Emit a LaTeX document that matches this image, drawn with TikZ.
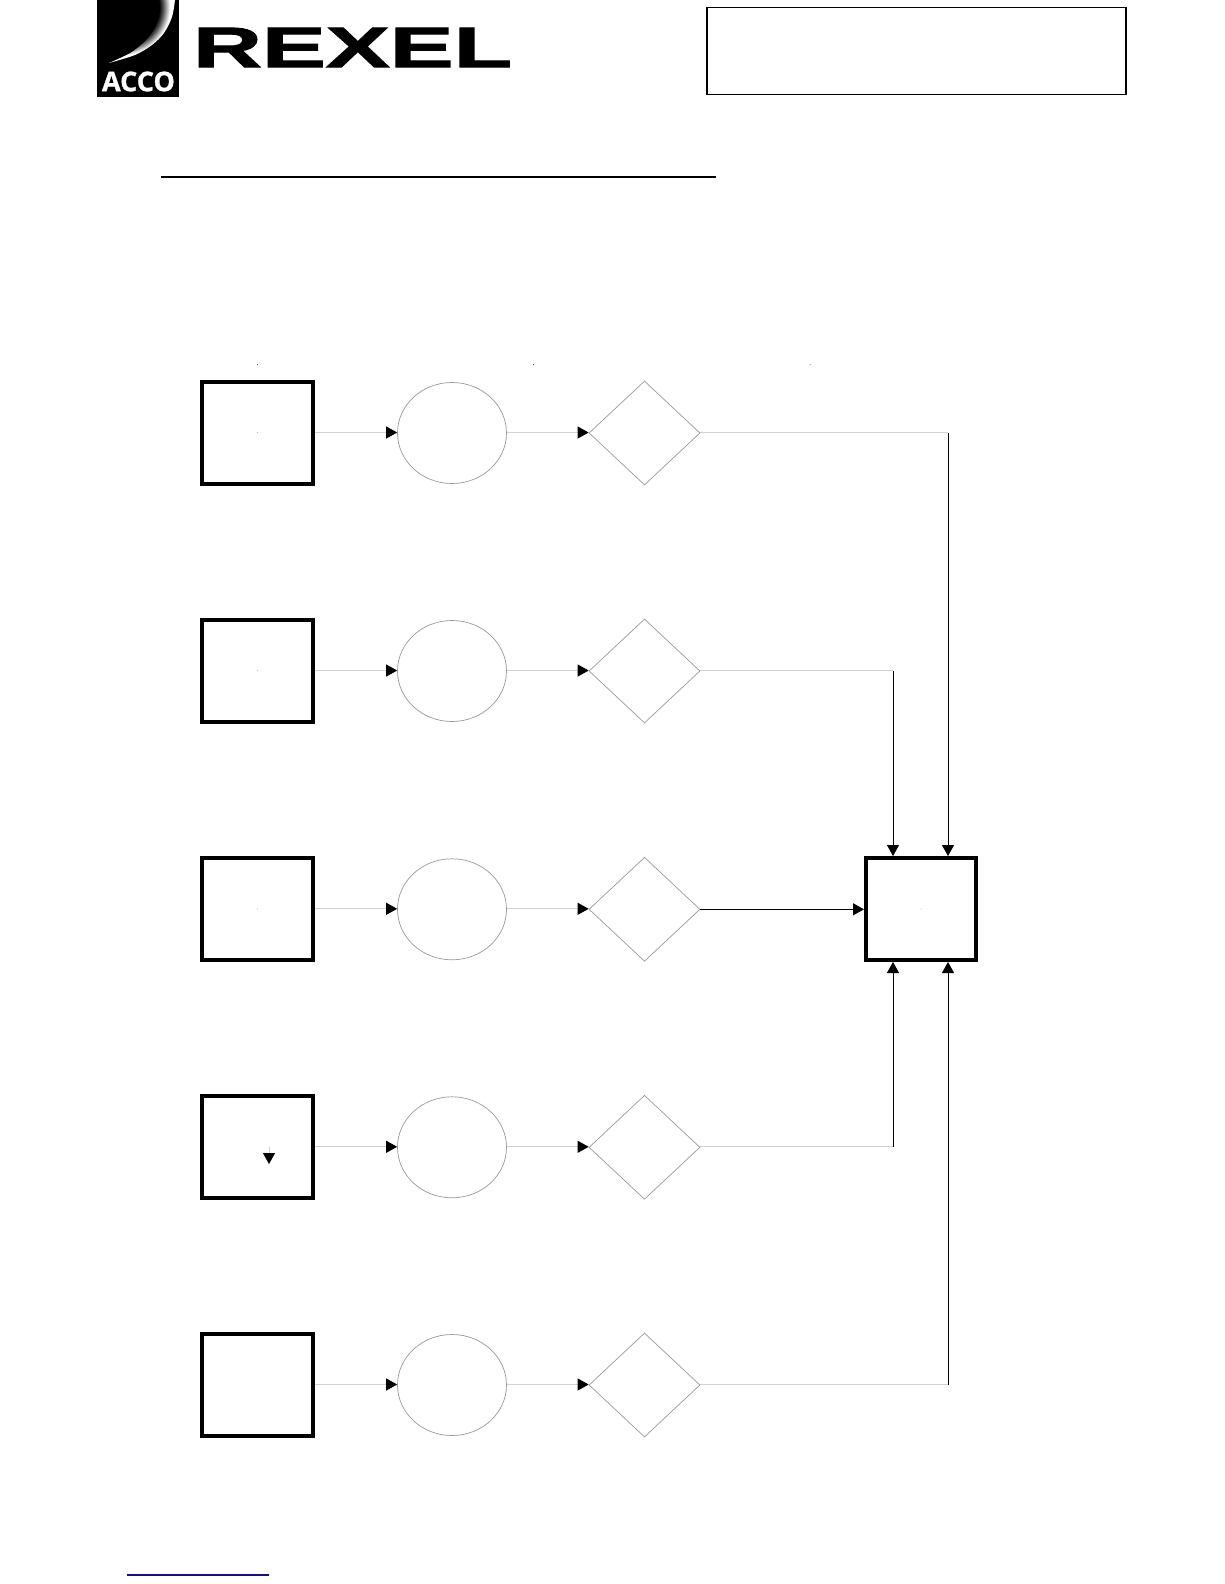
\documentclass[tikz,border=0pt]{standalone}
\usepackage{fontspec}
\setmainfont{Liberation Sans}
\newfontfamily\accofont{Open Sans}[BoldFont={Open Sans Bold},BoldFeatures={FakeBold=1}]
\newfontfamily\rexfont{Liberation Sans Bold}[FakeBold=1.5]
\usetikzlibrary{arrows.meta,shapes.geometric,calc}
\pgfdeclareradialshading{moonshade}{\pgfpoint{0bp}{0bp}}{color(0bp)=(black);color(15.5bp)=(black);color(17bp)=(black!70!white);color(18.5bp)=(black!35!white);color(20bp)=(white);color(50bp)=(white)}
\tikzset{
  x=1pt,y=-1pt,
  thickbox/.style={draw=black,line width=4pt,minimum width=111pt,minimum height=102pt,inner sep=0pt},
  oval/.style={draw=black!40,line width=0.7pt,ellipse,minimum width=109pt,minimum height=101pt,inner sep=0pt},
  rhomb/.style={draw=black!40,line width=0.7pt,diamond,aspect=1,minimum width=111pt,minimum height=104pt,inner sep=0pt},
  tip/.style={-{Triangle[length=11pt,width=12pt,black]}},
  faintarrow/.style={tip,draw=black!18,line width=0.9pt},
  darkarrow/.style={tip,draw=black,line width=0.9pt},
  faintline/.style={draw=black!18,line width=0.9pt},
  speck/.style={fill=black!60,draw=none},
  faintspeck/.style={fill=black!25,draw=none},
}
\begin{document}
\begin{tikzpicture}
\useasboundingbox (0,0) rectangle (1224,1584);
\fill[white] (0,0) rectangle (1224,1584);
% logo
\fill[black] (97,0) rectangle (179,97);
\begin{scope}
  \clip plot[smooth] coordinates {(175,0) (172,17) (164,33) (152,45) (135,55) (109,63)} -- plot[smooth] coordinates {(109,63) (132,52) (149,37) (157,23) (160,10) (159,0)} -- cycle;
  \shade[shading=moonshade] (122,7) circle (60);
\end{scope}
\node[text=white,inner sep=0pt,anchor=center,font={\accofont\bfseries\fontsize{27}{28}\selectfont}] (acco) at (138.5,81.5) {ACCO};
\node[text=black,inner sep=0pt,anchor=center,xscale=1.68,font={\rexfont\fontsize{57}{60}\selectfont}] (rexel) at (352.5,47.5) {REXEL};
% header box and rules
\node[draw=black,line width=1.1pt,minimum width=419pt,minimum height=87pt,inner sep=0pt] (hdr) at (916.5,51) {};
\coordinate (ruleA) at (161,177);
\coordinate (ruleB) at (716,177);
\draw[black,line width=2pt] (ruleA) -- (ruleB);
\coordinate (linkA) at (127,1575);
\coordinate (linkB) at (269,1575);
\draw[draw={rgb,255:red,15;green,15;blue,150},line width=1.2pt] (linkA) -- (linkB);
% rows: shapes sit half a pixel below their connector line
\foreach \i/\yy in {1/433,2/671,3/909.3,4/1147.3,5/1385}{
  \node[thickbox] (b\i) at (257.5,\yy) {};
  \node[oval] (e\i) at (452,\yy) {};
  \node[rhomb] (d\i) at (644.5,\yy) {};
  \draw[faintarrow] ([yshift=0.5pt]b\i.east) -- ([yshift=0.5pt]e\i.west);
  \draw[faintarrow] ([yshift=0.5pt]e\i.east) -- ([yshift=0.5pt]d\i.west);
}
% target box
\node[thickbox,minimum width=110pt,minimum height=102pt] (rb) at (921,909) {};
\coordinate (c1) at (948,432.5);
\coordinate (c2) at (893,670.5);
\coordinate (c4) at (893,1146.8);
\coordinate (c5) at (948,1384.5);
\draw[faintline] (c1 -| d1.east) -- (c1);
\draw[faintline] (c2 -| d2.east) -- (c2);
\draw[faintline] (c4 -| d4.east) -- (c4);
\draw[faintline] (c5 -| d5.east) -- (c5);
\draw[darkarrow] (c1) -- (c1 |- rb.north);
\draw[darkarrow] (c2) -- (c2 |- rb.north);
\draw[darkarrow] (d3.east) -- (d3.east -| rb.west);
\draw[darkarrow] (c4) -- (c4 |- rb.south);
\draw[darkarrow] (c5) -- (c5 |- rb.south);
% small arrow in box 4
\coordinate (sa) at (269,1147);
\coordinate (sb) at (269,1164);
\draw[faintarrow] (sa) -- (sb);
% specks
\fill[speck] (257.5,364.5) circle (0.6);
\fill[speck] (533.5,364.5) circle (0.6);
\fill[speck] (810,364.5) circle (0.5);
\fill[faintspeck] (257.5,432.5) circle (0.6);
\fill[faintspeck] (257.5,670.5) circle (0.6);
\fill[faintspeck] (257.5,909) circle (0.6);
\fill[faintspeck] (921,909) circle (0.6);
\end{tikzpicture}
\end{document}
